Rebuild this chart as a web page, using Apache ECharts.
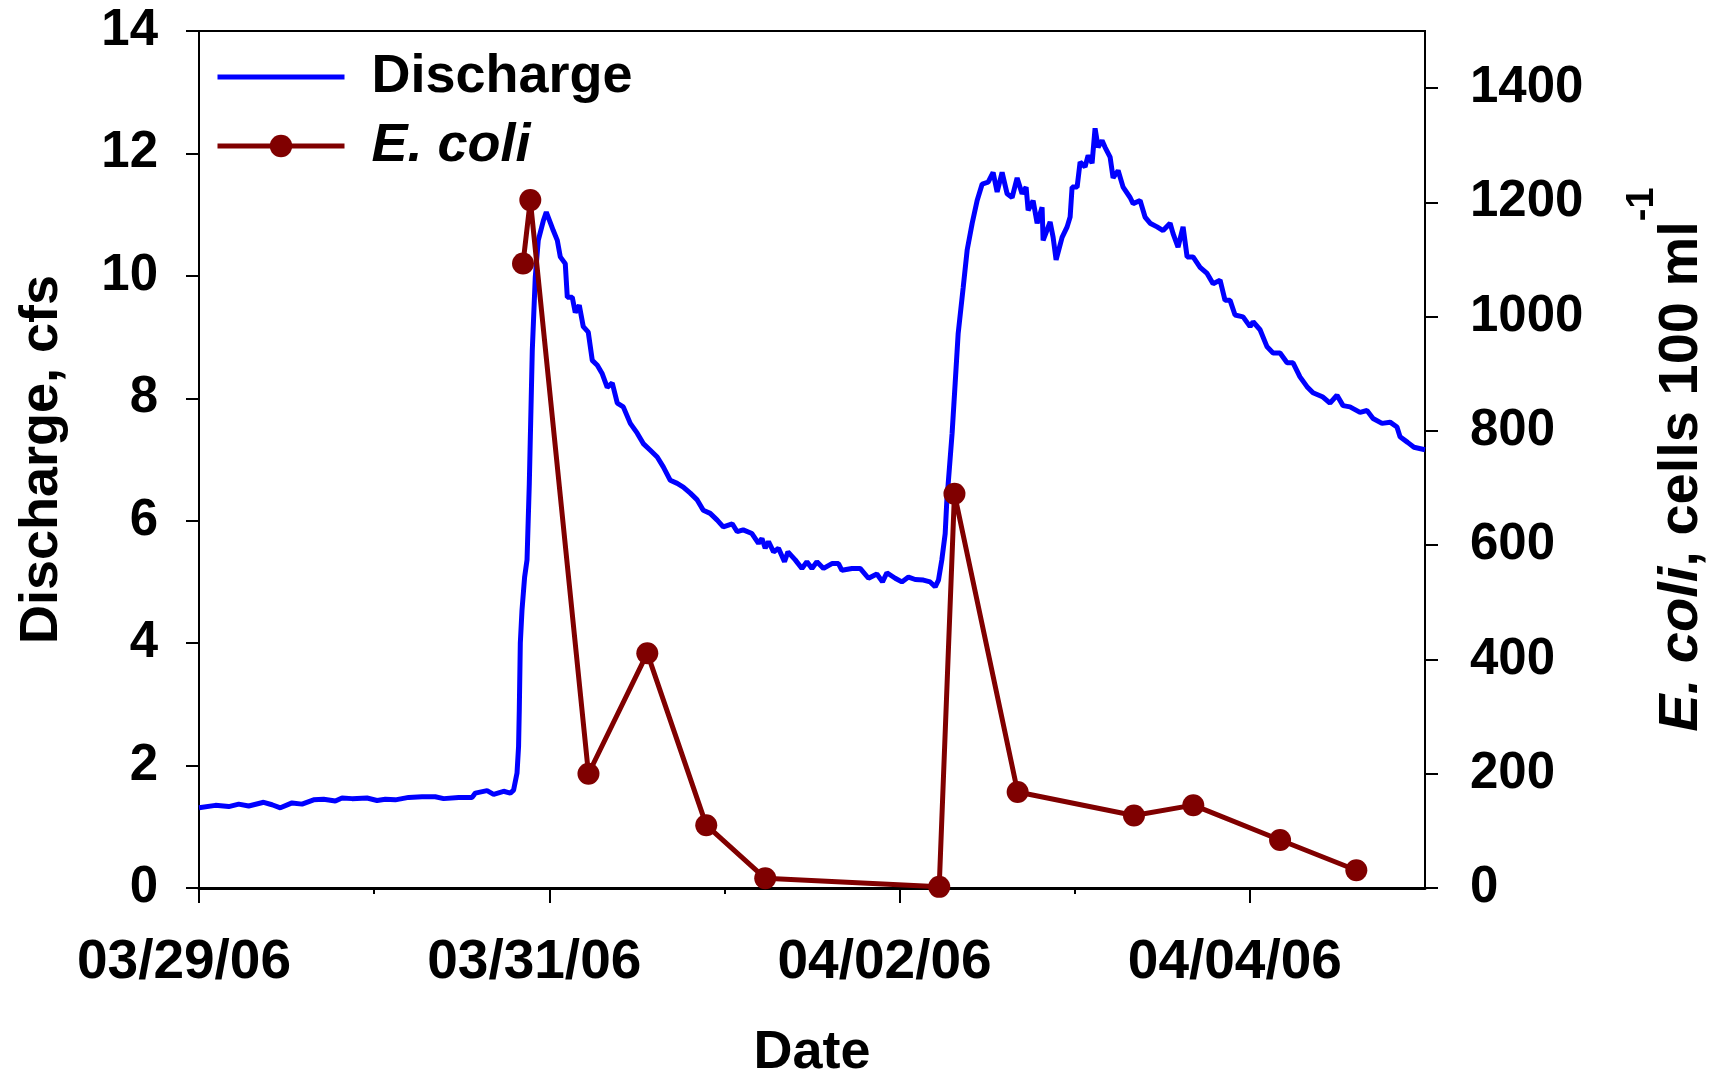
<!DOCTYPE html>
<html><head><meta charset="utf-8">
<script src="https://cdn.jsdelivr.net/npm/echarts@6/dist/echarts.min.js"></script>
<style>html,body{margin:0;padding:0;background:#fff}#c{width:1711px;height:1078px}</style>
</head><body><div id="c"></div>
<script>
// Hours since 03/29/06 00:00
const dischargeHours = [0,2.25,4.07,5.44,6.81,8.86,10.01,11.15,12.75,14.12,15.71,17.08,18.68,19.6,20.97,23.03,24.4,25.53,26.9,28.73,30.56,32.38,33.52,35.58,37.41,37.86,39.47,40.37,41.74,42.66,43.11,43.58,43.79,43.89,44.03,44.26,44.62,44.95,45.26,45.67,46.08,46.49,47.18,47.59,48.14,48.55,49.1,49.51,50.19,50.47,51.15,51.56,52.11,52.66,53.34,53.89,54.58,55.26,55.94,56.63,57.32,58.14,59.1,60.05,60.88,61.84,62.79,63.62,64.58,65.53,66.36,67.32,68.27,69.1,70.05,71.01,71.84,73.07,73.75,74.57,75.77,76.67,77.14,77.59,78.04,78.73,79.41,80.23,80.7,81.7,82.62,83.3,83.99,84.67,85.58,86.73,87.63,88.1,89.47,90.6,91.74,92.89,93.66,94.26,95.4,96.31,97.22,98.14,99.27,100.19,100.88,101.33,101.79,102.25,102.48,102.66,103.2,103.62,104.03,104.71,105.26,105.95,106.63,107.32,108.14,108.82,109.37,110.05,110.74,111.42,112.11,112.79,113.34,113.62,114.3,114.85,115.53,115.67,116.63,117.04,117.45,118.27,118.96,119.37,119.64,120.33,120.74,121.42,121.84,122.38,122.79,123.21,123.75,124.16,124.85,125.26,125.95,126.63,127.59,128.0,128.96,129.64,130.33,131.29,132.11,133.07,133.48,134.16,134.85,135.4,136.22,137.18,138.14,138.96,139.92,140.6,141.29,141.97,143.07,144.03,144.44,145.4,146.36,147.18,148.14,149.1,149.92,150.87,151.83,152.65,154.02,154.98,155.94,156.77,157.72,159.1,160.05,160.88,162.11,163.21,164.16,164.58,165.62,166.49,168];
const dischargeValues = [1.31,1.35,1.33,1.37,1.34,1.40,1.36,1.31,1.39,1.37,1.44,1.45,1.42,1.47,1.46,1.47,1.43,1.45,1.44,1.48,1.49,1.49,1.46,1.48,1.48,1.55,1.59,1.53,1.58,1.55,1.60,1.88,2.31,2.91,4.0,4.54,5.08,5.36,6.6,8.78,9.98,10.58,10.9,11.04,10.87,10.74,10.58,10.31,10.2,9.65,9.65,9.4,9.52,9.17,9.08,8.62,8.54,8.4,8.18,8.25,7.92,7.86,7.59,7.43,7.26,7.15,7.04,6.88,6.66,6.61,6.55,6.45,6.34,6.17,6.12,6.01,5.9,5.95,5.82,5.85,5.79,5.63,5.71,5.55,5.66,5.49,5.55,5.33,5.49,5.36,5.22,5.33,5.22,5.33,5.22,5.30,5.30,5.19,5.22,5.22,5.06,5.13,5.00,5.15,5.06,5.00,5.08,5.04,5.03,5.00,4.92,5.03,5.36,5.79,6.34,6.6,7.43,8.25,9.06,9.8,10.42,10.86,11.23,11.5,11.53,11.69,11.37,11.69,11.34,11.28,11.6,11.34,11.45,11.07,11.23,10.86,11.12,10.58,10.88,10.63,10.26,10.63,10.8,10.96,11.45,11.45,11.86,11.78,11.97,11.84,12.41,12.1,12.21,12.1,11.94,11.6,11.72,11.45,11.28,11.18,11.23,10.96,10.86,10.8,10.74,10.86,10.69,10.47,10.8,10.31,10.31,10.14,10.04,9.87,9.93,9.6,9.6,9.36,9.33,9.17,9.25,9.12,8.84,8.74,8.74,8.58,8.58,8.35,8.19,8.09,8.02,7.92,8.05,7.88,7.86,7.77,7.8,7.67,7.59,7.61,7.53,7.37,7.28,7.2,7.16];
const ecoliHours = [44.4,45.4,53.37,61.43,69.51,77.59,101.43,103.52,112.18,128.12,136.25,148.14,158.59];
const ecoliValues = [1093,1204,200,411,110,17,2,690,168,127,145,84,31];
const dateTickHours = [0,48,96,144];
const dateTickLabels = ['03/29/06','03/31/06','04/02/06','04/04/06'];
const dayTickHours = [24,72,120];
const ecoliTicks = [0,200,400,600,800,1000,1200,1400];

const FONT = '"Liberation Sans", Arial, Helvetica, sans-serif';
const bold = {fontFamily: FONT, fontWeight: 'bold', color: '#000'};
const chart = echarts.init(document.getElementById('c'), null, {renderer: 'canvas'});
chart.setOption({
  animation: false,
  backgroundColor: '#fff',
  grid: {left: 199, right: 286, top: 31, bottom: 190, outerBoundsMode: 'none', containLabel: false,
         show: true, borderColor: '#000', borderWidth: 2, backgroundColor: 'transparent'},
  legend: {
    orient: 'vertical', left: 210, top: 42, itemWidth: 127, itemHeight: 28, itemGap: 9,
    lineStyle: {width: 5},
    data: [{name: 'Discharge', itemStyle: {opacity: 0, color: 'rgba(0,0,0,0)', borderWidth: 0}}, {name: 'E. coli'}],
    formatter: n => n === 'E. coli' ? '{i|E. coli}' : '{b|Discharge}',
    textStyle: Object.assign({}, bold, {fontSize: 54, lineHeight: 60, padding: [0, 0, 0, 22],
      rich: {
        i: Object.assign({}, bold, {fontStyle: 'italic', fontSize: 54, lineHeight: 60}),
        b: Object.assign({}, bold, {fontSize: 54, lineHeight: 60})
      }})
  },
  xAxis: [
    {type: 'value', min: 0, max: 168, position: 'bottom',
     axisLine: {onZero: false, lineStyle: {color: '#000', width: 3}},
     axisTick: {show: true, customValues: dateTickHours, length: 15, lineStyle: {color: '#000', width: 2}},
     axisLabel: Object.assign({}, bold, {customValues: dateTickHours, fontSize: 55, margin: 47, padding: [0, 30, 0, 0],
       formatter: v => { const k = dateTickHours.indexOf(v); return k >= 0 ? dateTickLabels[k] : ''; }}),
     splitLine: {show: false},
     name: 'Date', nameLocation: 'middle', nameGap: 138,
     nameTextStyle: Object.assign({}, bold, {fontSize: 54})},
    {type: 'value', min: 0, max: 168, position: 'bottom',
     axisLine: {show: false},
     axisTick: {show: true, customValues: dayTickHours, length: 6, lineStyle: {color: '#000', width: 2}},
     axisLabel: {show: false}, splitLine: {show: false}}
  ],
  yAxis: [
    {type: 'value', min: 0, max: 14, interval: 2, position: 'left',
     axisLine: {show: true, onZero: false, lineStyle: {color: '#000', width: 2}},
     axisTick: {show: true, length: 13, lineStyle: {color: '#000', width: 2}},
     axisLabel: Object.assign({}, bold, {fontSize: 51, margin: 41}),
     splitLine: {show: false},
     name: 'Discharge, cfs', nameLocation: 'middle', nameRotate: 90, nameGap: 130,
     nameTextStyle: Object.assign({}, bold, {fontSize: 54})},
    {type: 'value', min: 0, max: 1500, position: 'right',
     axisLine: {show: true, onZero: false, lineStyle: {color: '#000', width: 2}},
     axisTick: {show: true, customValues: ecoliTicks, length: 13, lineStyle: {color: '#000', width: 2}},
     axisLabel: Object.assign({}, bold, {customValues: ecoliTicks, fontSize: 51, margin: 45, formatter: v => String(v)}),
     splitLine: {show: false},
     name: '{i|E. coli}{n|, cells 100 ml}{s|-1}', nameLocation: 'middle', nameRotate: 90, nameGap: 199,
     nameTextStyle: Object.assign({}, bold, {fontSize: 56,
       rich: {
         i: Object.assign({}, bold, {fontStyle: 'italic', fontSize: 56, lineHeight: 86, verticalAlign: 'bottom'}),
         n: Object.assign({}, bold, {fontSize: 56, lineHeight: 86, verticalAlign: 'bottom'}),
         s: Object.assign({}, bold, {fontSize: 38, lineHeight: 38, verticalAlign: 'top'})
       }})}
  ],
  series: [
    {name: 'Discharge', type: 'line', xAxisIndex: 0, yAxisIndex: 0,
     data: dischargeHours.map((h, i) => [h, dischargeValues[i]]),
     symbol: 'none', lineStyle: {color: '#0000FF', width: 5}, itemStyle: {color: '#0000FF'}, z: 2},
    {name: 'E. coli', type: 'line', xAxisIndex: 0, yAxisIndex: 1,
     data: ecoliHours.map((h, i) => [h, ecoliValues[i]]),
     symbol: 'circle', symbolSize: 22, lineStyle: {color: '#800000', width: 5}, itemStyle: {color: '#800000'}, z: 3}
  ]
});
</script></body></html>
